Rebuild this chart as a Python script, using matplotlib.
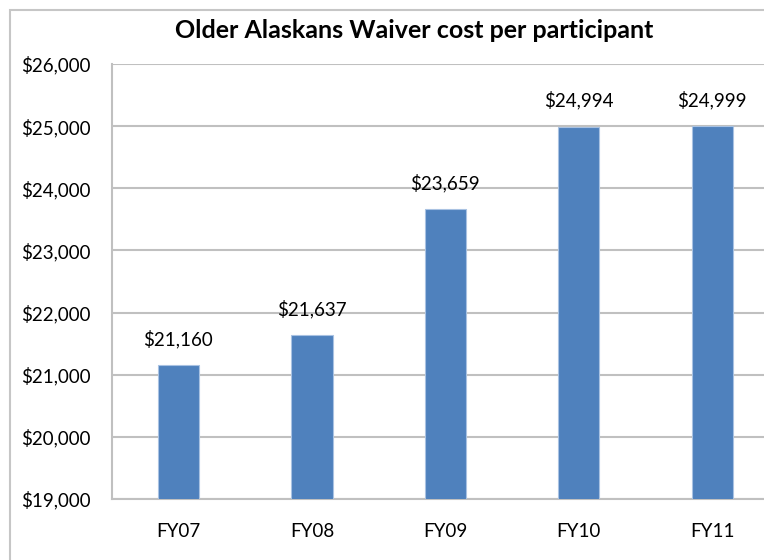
import matplotlib
matplotlib.use("Agg")
import matplotlib.pyplot as plt
from matplotlib.patches import Rectangle
from matplotlib.ticker import FuncFormatter

categories = ["FY07", "FY08", "FY09", "FY10", "FY11"]
values = [21160, 21637, 23659, 24994, 24999]
title = "Older Alaskans Waiver cost per participant"

W, H = 764, 560
fig = plt.figure(figsize=(W / 100, H / 100), dpi=100)
fig.patch.set_facecolor("white")

# outer chart border (cropped at right and bottom)
fig.patches.append(Rectangle((10 / W, -0.05), 1.1, 1 - 10 / H + 0.05,
                             transform=fig.transFigure, fill=False,
                             edgecolor="#c6c6c6", linewidth=1.5))

left, right = 111.7 / W, 779 / W
bottom, top = 1 - 499 / H, 1 - 64 / H
ax = fig.add_axes([left, bottom, right - left, top - bottom])

font_main = ["Lato", "DejaVu Sans"]
x = range(len(categories))
bars = ax.bar(x, values, width=0.31, bottom=0, color="#4f81bd",
              edgecolor="#a9c2e2", linewidth=0.8, zorder=3)
ax.set_xlim(-0.5, 4.5)
ax.set_ylim(19000, 26000)
ax.set_yticks(range(19000, 26001, 1000))
ax.yaxis.set_major_formatter(FuncFormatter(lambda v, p: f"${int(v):,}"))
ax.set_xticks(list(x))
ax.set_xticklabels(categories)
ax.grid(axis="y", color="#c0c0c0", linewidth=1.5, zorder=0)
ax.set_axisbelow(True)
for s in ["top", "right"]:
    ax.spines[s].set_visible(False)
for s in ["left", "bottom"]:
    ax.spines[s].set_color("#c0c0c0")
    ax.spines[s].set_linewidth(1.5)
ax.tick_params(length=0, labelsize=13.5, colors="black")
ax.tick_params(axis="x", pad=17)
ax.tick_params(axis="y", pad=15)
for lab in ax.get_xticklabels() + ax.get_yticklabels():
    lab.set_fontfamily(font_main)

for xi, v in zip(x, values):
    ax.annotate(f"${v:,}", (xi, v), xytext=(0, 12), textcoords="offset points",
                ha="center", va="bottom", fontsize=13.5, family=font_main,
                color="black")

fig.text(414.5 / W, 1 - 30 / H, title, ha="center", va="center",
         fontsize=18, fontweight="bold", family=font_main)

fig.savefig("out.png", dpi=100, facecolor="white")
